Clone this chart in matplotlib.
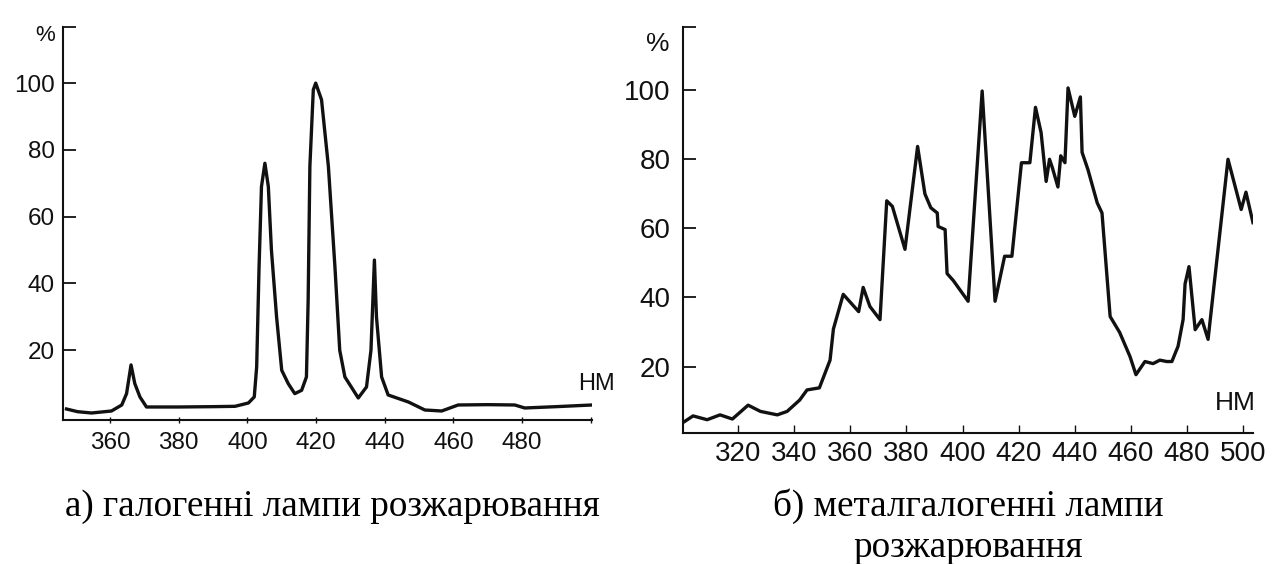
import matplotlib
matplotlib.use("Agg")
import matplotlib.pyplot as plt

# а) галогенні лампи - спектр (нм, %)
wl_a = [347.3, 350.5, 354.6, 360.4, 363.4, 364.8, 366.1, 367.2, 368.7, 370.6,
        380, 390, 396.4, 400.3, 402, 402.7, 403.4, 404.1, 405.1, 406.1,
        407, 408.5, 410, 411.9, 413.8, 415.8, 417.2, 417.7, 418.2, 419.2,
        419.9, 421.6, 423.6, 425.5, 426.9, 428.4, 432.3, 434.7, 436, 437,
        437.6, 439.1, 441, 446.9, 451.7, 456.6, 461.4, 470, 477.9, 480.8,
        490, 500.4]
val_a = [2.4, 1.6, 1.2, 1.8, 3.6, 7, 15.6, 10, 6, 3,
         3, 3.1, 3.2, 4.2, 6, 15, 45, 69, 76, 69,
         50, 30, 14, 10, 7, 8, 12, 35, 75, 98,
         100, 95, 75, 45, 20, 12, 5.7, 9, 20, 47,
         30, 12, 6.6, 4.5, 2.1, 1.8, 3.6, 3.7, 3.6, 2.7,
         3.1, 3.6]

# б) металгалогенні лампи - спектр (нм, %)
wl_b = [301, 304, 309, 313.6, 318, 323.6, 328, 334, 337.5, 342,
        344.6, 349, 352.8, 354, 357.5, 363, 364.6, 367, 370.6, 373,
        375, 379.5, 384, 386.6, 388.7, 391, 391.3, 393.8, 394.5, 396.7,
        402, 407, 411.6, 415, 417.6, 421, 424, 426, 428, 429.8,
        431, 432, 434, 435, 436.5, 437.6, 440, 442, 442.6, 444.7,
        448, 449.7, 452.6, 456, 459.7, 461.8, 465, 467.9, 470.3, 472.8,
        474.6, 476.8, 478.6, 479.3, 480.7, 482.9, 485.3, 487.5, 494.6, 499.3,
        501, 503.5]
val_b = [4.2, 5.8, 4.7, 6.1, 4.9, 8.9, 7.1, 6.1, 7.1, 10.4,
         13.3, 13.9, 21.9, 30.9, 40.9, 35.9, 42.9, 37.4, 33.6, 67.9,
         66.3, 53.9, 83.6, 69.9, 65.9, 64.4, 60.5, 59.6, 46.9, 44.9,
         38.9, 99.6, 38.9, 51.9, 51.9, 78.9, 78.9, 94.9, 87.6, 73.5,
         79.9, 77.5, 71.9, 80.9, 78.9, 100.5, 92.3, 97.9, 81.9, 76.9,
         67.3, 64.4, 34.5, 29.9, 22.9, 17.7, 21.5, 20.9, 21.9, 21.5,
         21.5, 25.9, 33.6, 43.9, 48.9, 30.7, 33.6, 27.9, 79.9, 65.4,
         70.4, 61.6]

yticks = [20, 40, 60, 80, 100]
xticks_a = [360, 380, 400, 420, 440, 460, 480]
xticks_b = [320, 340, 360, 380, 400, 420, 440, 460, 480, 500]

sans = "Liberation Sans"
serif = "Liberation Serif"
ink = "#111111"

fig = plt.figure(figsize=(12.74, 5.64), dpi=100)

# --- графік а ---
ax1 = fig.add_axes([0.0495, 0.2553, 0.4152, 0.6968])
ax1.plot(wl_a, val_a, color=ink, lw=2.4, solid_joinstyle="round")
ymax_a = 116.8
ax1.set_xlim(346.3, 500.4)
ax1.set_ylim(-0.9, ymax_a)
ax1.set_yticks(yticks + [ymax_a])
ax1.set_yticklabels([str(t) for t in yticks] + [""], fontsize=17.5, family=sans)
ax1.set_xticks(xticks_a + [500])
ax1.set_xticklabels([str(t) for t in xticks_a] + [""], fontsize=17.5, family=sans)
ax1.tick_params(axis="y", direction="in", length=9, width=1.3, pad=6, colors=ink)
ax1.tick_params(axis="x", direction="inout", length=5, width=1.0, pad=6, colors=ink)

# --- графік б ---
ax2 = fig.add_axes([0.5361, 0.2323, 0.4474, 0.7199])
ax2.plot(wl_b, val_b, color=ink, lw=2.4, solid_joinstyle="round")
ymax_b = 118.1
ax2.set_xlim(300.4, 503.5)
ax2.set_ylim(0.87, ymax_b)
ax2.set_yticks(yticks + [ymax_b])
ax2.set_yticklabels([str(t) for t in yticks] + [""], fontsize=20, family=sans)
ax2.set_xticks(xticks_b)
ax2.set_xticklabels([str(t) for t in xticks_b], fontsize=20, family=sans)
ax2.tick_params(axis="y", direction="in", length=9, width=1.3, pad=9, colors=ink)
ax2.tick_params(axis="x", direction="in", length=6, width=1.0, pad=6, colors=ink)

for ax in (ax1, ax2):
    for s in ("top", "right"):
        ax.spines[s].set_visible(False)
    for s in ("left", "bottom"):
        ax.spines[s].set_linewidth(1.5)
        ax.spines[s].set_color(ink)
    ax.patch.set_alpha(0)

fig.text(0.0353, 0.9362, "%", fontsize=16, family=sans, ha="center", va="center", color=ink)
fig.text(0.5165, 0.922, "%", fontsize=19, family=sans, ha="center", va="center", color=ink)
fig.text(0.4686, 0.3191, "НМ", fontsize=17, family=sans, ha="center", va="center", color=ink)
fig.text(0.9694, 0.2855, "НМ", fontsize=19, family=sans, ha="center", va="center", color=ink)

# підписи
fig.text(65 / 1274, 0.0851, "а) галогенні лампи розжарювання", fontsize=26.7,
         family=serif, ha="left", va="baseline", color="black")
fig.text(968 / 1274, 0.0851, "б) металгалогенні лампи", fontsize=26.7,
         family=serif, ha="center", va="baseline", color="black")
fig.text(968 / 1274, 0.0124, "розжарювання", fontsize=26.7,
         family=serif, ha="center", va="baseline", color="black")

fig.savefig("out.png", dpi=100, facecolor="white")
